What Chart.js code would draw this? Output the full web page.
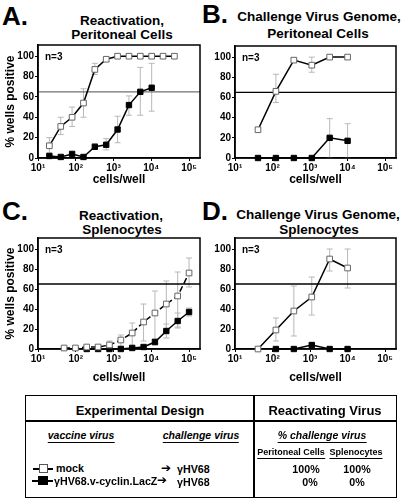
<!DOCTYPE html>
<html>
<head>
<meta charset="utf-8">
<script src="https://cdn.jsdelivr.net/npm/chart.js@4.4.0/dist/chart.umd.min.js"></script>
<style>
body{margin:0;background:#fff;width:407px;height:503px;position:relative;overflow:hidden;font-family:"Liberation Sans",Arial,sans-serif;font-weight:bold;color:#000}
.abs{position:absolute;white-space:nowrap;line-height:1}
canvas{position:absolute}
.letter{font-size:26px}
.ttl{font-size:13.5px;transform:translateX(-50%)}
.hd{font-size:13px;transform:translateX(-50%)}
.sub{font-size:10.5px;font-style:italic;border-bottom:1px solid #000;padding-bottom:1px;transform:translateX(-50%)}
.sm{font-size:9px;border-bottom:1px solid #000;padding-bottom:1px;transform:translateX(-50%)}
.row{font-size:10.7px}
.ctr{transform:translateX(-50%)}
.arr{font-family:"DejaVu Sans",sans-serif;font-size:12px}
</style>
</head>
<body>
<div class="abs letter" style="left:2px;top:3px">A.</div>
<div class="abs ttl" style="left:122px;top:14px">Reactivation,</div>
<div class="abs ttl" style="left:122px;top:28px">Peritoneal Cells</div>
<div class="abs letter" style="left:202px;top:1px">B.</div>
<div class="abs ttl" style="left:319px;top:10px">Challenge Virus Genome,</div>
<div class="abs ttl" style="left:318px;top:27px">Peritoneal Cells</div>
<div class="abs letter" style="left:2px;top:198px">C.</div>
<div class="abs ttl" style="left:121px;top:209px">Reactivation,</div>
<div class="abs ttl" style="left:122px;top:223px">Splenocytes</div>
<div class="abs letter" style="left:202px;top:198px">D.</div>
<div class="abs ttl" style="left:318px;top:208px">Challenge Virus Genome,</div>
<div class="abs ttl" style="left:319px;top:223px">Splenocytes</div>

<canvas id="chartA"></canvas>
<canvas id="chartB"></canvas>
<canvas id="chartC"></canvas>
<canvas id="chartD"></canvas>

<!-- design table -->
<div class="abs" style="left:25px;top:395px;width:372px;height:103px;border:1.5px solid #000;box-sizing:border-box"></div>
<div class="abs" style="left:25px;top:420px;width:372px;height:1.5px;background:#000"></div>
<div class="abs" style="left:253px;top:395px;width:1.5px;height:103px;background:#000"></div>
<div class="abs hd" style="left:140px;top:404px">Experimental Design</div>
<div class="abs hd" style="left:325px;top:404px">Reactivating Virus</div>
<div class="abs sub" style="left:81px;top:430px">vaccine virus</div>
<div class="abs sub" style="left:201px;top:430px">challenge virus</div>
<div class="abs sub" style="left:322px;top:430px">% challenge virus</div>
<div class="abs sm" style="left:291px;top:448px">Peritoneal Cells</div>
<div class="abs sm" style="left:356px;top:448px">Splenocytes</div>

<div class="abs" style="left:33px;top:468px;width:20px;height:1.5px;background:#000"></div>
<div class="abs" style="left:39px;top:464px;width:7px;height:7px;border:1px solid #555;background:#fff"></div>
<div class="abs row" style="left:56px;top:463px">mock</div>
<div class="abs arr" style="left:161px;top:462px">&#10132;</div>
<div class="abs row" style="left:177px;top:464px">γHV68</div>
<div class="abs row ctr" style="left:306px;top:464px">100%</div>
<div class="abs row ctr" style="left:357px;top:464px">100%</div>

<div class="abs" style="left:32px;top:480px;width:21px;height:1.5px;background:#000"></div>
<div class="abs" style="left:38px;top:476px;width:10px;height:9px;background:#000"></div>
<div class="abs row" style="left:54px;top:476px">γHV68.v-cyclin.LacZ</div>
<div class="abs arr" style="left:157px;top:474px">&#10132;</div>
<div class="abs row" style="left:177px;top:477px">γHV68</div>
<div class="abs row ctr" style="left:310px;top:477px">0%</div>
<div class="abs row ctr" style="left:357px;top:477px">0%</div>

<script>
var xTicks = [10, 100, 1000, 10000, 100000];
var yTicks = [0, 20, 40, 60, 80, 100];
var cutoff = 65;
var sup = ['\u2070', '\u00b9', '\u00b2', '\u00b3', '\u2074', '\u2075'];

// A. reactivation, peritoneal cells (2-fold dilutions)
var aMockX = [20, 40, 80, 160, 320, 640, 1280, 2560, 5120, 10240, 20480, 40960];
var aMockY = [12, 31, 40, 54, 87, 97, 100, 100, 100, 100, 100, 100];
var aMockLo = [5, 23, 31, 40, 82, 95, null, null, null, null, null, null];
var aMockHi = [20, 40, 50, 68, 93, 99, null, null, null, null, null, null];
var aCycX = [20, 40, 80, 160, 320, 640, 1280, 2560, 5120, 10240];
var aCycY = [2, 1, 4, 1, 11, 13, 28, 52, 65, 69];
var aCycLo = [null, null, null, null, 9, 8, 15, 42, 42, 46];
var aCycHi = [null, null, null, null, 14, 19, 41, 61, 89, 93];

// B. challenge virus genome, peritoneal cells (3-fold dilutions)
var bX = [41, 123, 370, 1111, 3333, 10000];
var bMockY = [28, 66, 97, 92, 100, 100];
var bMockLo = [26, 55, 95, 85, null, null];
var bMockHi = [30, 83, 99, 100, null, null];
var bCycY = [0, 0, 0, 0, 20, 17];
var bCycLo = [null, null, null, null, 0, 0];
var bCycHi = [null, null, null, null, 39, 34];

// C. reactivation, splenocytes
var cMockX = [49, 98, 195, 390, 781, 1562, 3125, 6250, 12500, 25000, 50000, 100000];
var cMockY = [1, 1, 2, 2, 4, 9, 16, 27, 36, 45, 53, 76];
var cMockLo = [null, null, null, 1, 1, 3, 4, 8, 10, 16, 22, 62];
var cMockHi = [null, null, null, 4, 8, 14, 26, 45, 58, 68, 77, 91];
var cCycX = [195, 390, 781, 1562, 3125, 6250, 12500, 25000, 50000, 100000];
var cCycY = [0, 0, 0, 0, 1, 2, 7, 18, 28, 37];
var cCycLo = [null, null, null, null, null, null, 4, 11, 21, 33];
var cCycHi = [null, null, null, null, null, null, 10, 25, 36, 41];

// D. challenge virus genome, splenocytes
var dX = [41, 123, 370, 1111, 3333, 10000];
var dMockY = [0, 19, 38, 52, 90, 81];
var dMockLo = [null, 8, 13, 34, 78, 61];
var dMockHi = [null, 31, 63, 72, 100, 100];
var dCycX = [123, 370, 1111, 3333, 10000];
var dCycY = [0, 0, 4, 0, 0];
var dCycLo = [null, null, 2, null, null];
var dCycHi = [null, null, 6, null, null];

var family = '"Liberation Sans", Arial, sans-serif';

// error bars, 65% line, frame and n=3
var extras = {
    id: 'extras',
    beforeDatasetsDraw: function(chart, args, opts) {
        var ctx = chart.ctx, a = chart.chartArea, x = chart.scales.x, y = chart.scales.y;
        ctx.save();
        ctx.strokeStyle = '#b8b8b8';
        ctx.lineWidth = 1;
        chart.data.datasets.forEach(function(ds) {
            ds.data.forEach(function(p, i) {
                if (ds.lo[i] == null) return;
                var px = x.getPixelForValue(p.x);
                var y1 = y.getPixelForValue(ds.lo[i]), y2 = y.getPixelForValue(ds.hi[i]);
                ctx.beginPath();
                ctx.moveTo(px, y1); ctx.lineTo(px, y2);
                ctx.moveTo(px - 3, y1); ctx.lineTo(px + 3, y1);
                ctx.moveTo(px - 3, y2); ctx.lineTo(px + 3, y2);
                ctx.stroke();
            });
        });
        var cy = y.getPixelForValue(cutoff);
        ctx.strokeStyle = opts.cut;
        ctx.lineWidth = 1.3;
        ctx.beginPath(); ctx.moveTo(a.left, cy); ctx.lineTo(a.right, cy); ctx.stroke();
        ctx.strokeStyle = '#000';
        ctx.lineWidth = 1.5;
        ctx.strokeRect(a.left, a.top, a.right - a.left, a.bottom - a.top);
        ctx.fillStyle = '#000';
        ctx.font = 'bold 10px ' + family;
        ctx.fillText('n=3', a.left + 7, a.top + 15);
        ctx.restore();
    }
};

function series(xs, ys, lo, hi, open, dash) {
    return {
        data: xs.map(function(v, i) { return {x: v, y: ys[i]}; }),
        lo: lo, hi: hi,
        showLine: true,
        borderColor: '#000',
        borderWidth: 1.5,
        borderDash: dash || [],
        pointStyle: 'rect',
        pointRadius: open ? 4 : 3.8,
        pointBackgroundColor: open ? '#fff' : '#000',
        pointBorderColor: open ? '#666' : '#000',
        pointBorderWidth: 1,
        clip: false
    };
}

function panel(id, box, sets, o) {
    var cv = document.getElementById(id);
    var left = box[0] - 38, top = box[1] - 8;
    cv.width = box[2] - left + 2;
    cv.height = box[3] - box[1] + 8 + o.xh;
    cv.style.left = left + 'px';
    cv.style.top = top + 'px';
    var tickFont = {family: family, size: 10, weight: 'bold'};
    var titleFont = {family: family, size: 12, weight: 'bold'};
    new Chart(cv, {
        type: 'scatter',
        data: {datasets: sets},
        options: {
            responsive: false,
            animation: false,
            events: [],
            layout: {padding: {top: 8, right: 2, left: 0, bottom: 0}},
            plugins: {legend: {display: false}, tooltip: {enabled: false}, extras: {cut: o.cut}},
            scales: {
                x: {
                    type: 'logarithmic', min: 10, max: 195000,
                    afterBuildTicks: function(s) { s.ticks = xTicks.map(function(v) { return {value: v}; }); },
                    afterFit: function(s) { s.height = o.xh; },
                    ticks: {font: tickFont, color: '#000', padding: 1, maxRotation: 0, autoSkip: false,
                        callback: function(v) { return '10' + sup[Math.round(Math.log10(v))]; }},
                    grid: {drawOnChartArea: false, tickLength: 3, color: '#000'},
                    border: {color: '#000', width: 1.5},
                    title: {display: true, text: 'cells/well', font: titleFont, color: '#000', padding: {top: 0, bottom: 3}}
                },
                y: {
                    min: 0, max: 111,
                    afterBuildTicks: function(s) { s.ticks = yTicks.map(function(v) { return {value: v}; }); },
                    afterFit: function(s) { s.width = 38; },
                    ticks: {font: tickFont, color: '#000', padding: 1},
                    grid: {drawOnChartArea: false, tickLength: 3, color: '#000'},
                    border: {color: '#000', width: 1.5},
                    title: {display: o.ytitle, text: '% wells positive', font: titleFont, color: '#000', padding: {top: 3, bottom: 0}}
                }
            }
        },
        plugins: [extras]
    });
}

panel('chartA', [38, 45, 203, 158], [
    series(aMockX, aMockY, aMockLo, aMockHi, true),
    series(aCycX, aCycY, aCycLo, aCycHi, false)
], {xh: 32, cut: '#707070', ytitle: true});

panel('chartB', [235, 46, 399, 158], [
    series(bX, bMockY, bMockLo, bMockHi, true),
    series(bX, bCycY, bCycLo, bCycHi, false)
], {xh: 32, cut: '#000', ytitle: false});

panel('chartC', [38, 238, 203, 349], [
    series(cMockX, cMockY, cMockLo, cMockHi, true, [6, 3]),
    series(cCycX, cCycY, cCycLo, cCycHi, false)
], {xh: 39, cut: '#000', ytitle: true});

panel('chartD', [235, 238, 399, 349], [
    series(dX, dMockY, dMockLo, dMockHi, true),
    series(dCycX, dCycY, dCycLo, dCycHi, false)
], {xh: 39, cut: '#000', ytitle: false});
</script>
</body>
</html>
